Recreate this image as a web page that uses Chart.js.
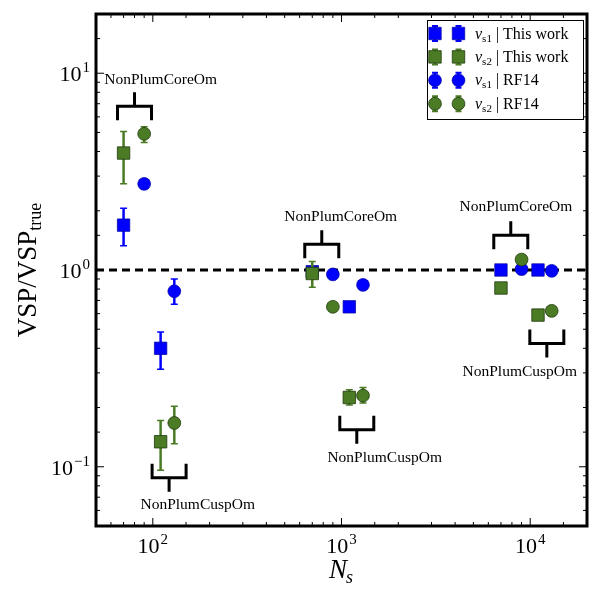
<!DOCTYPE html>
<html>
<head>
<meta charset="utf-8">
<script src="https://cdn.jsdelivr.net/npm/chart.js@4.4.1/dist/chart.umd.min.js"></script>
<style>
  html, body { margin: 0; padding: 0; background: #fff; }
  #wrap { width: 600px; height: 600px; }
</style>
</head>
<body>
<div id="wrap"><canvas id="chart"></canvas></div>
<script>
// N_s of every point: core sample, cusp sample, for each decade
const nsThisWork = [70, 110, 700, 1100, 7000, 11000];
const nsRF14 = [90, 130, 900, 1300, 9000, 13000];

const vs1ThisWork = [1.69, 0.40, 0.98, 0.65, 1.0, 1.0];
const vs1ThisWorkLo = [1.33, 0.313, null, null, null, null];
const vs1ThisWorkHi = [2.06, 0.484, null, null, null, null];

const vs2ThisWork = [3.93, 0.134, 0.96, 0.225, 0.81, 0.59];
const vs2ThisWorkLo = [2.74, 0.096, 0.818, 0.206, null, null];
const vs2ThisWorkHi = [5.05, 0.172, 1.106, 0.246, null, null];

const vs1RF14 = [2.74, 0.78, 0.95, 0.84, 1.01, 0.99];
const vs1RF14Lo = [null, 0.67, null, null, null, null];
const vs1RF14Hi = [null, 0.90, null, null, null, null];

const vs2RF14 = [4.92, 0.167, 0.65, 0.230, 1.13, 0.62];
const vs2RF14Lo = [4.45, 0.131, null, 0.211, null, null];
const vs2RF14Hi = [5.35, 0.203, null, 0.253, null, null];

// tick labels are 10^exp
const xTickValues = [100, 1000, 10000];
const xTickExps = ['2', '3', '4'];
const yTickValues = [0.1, 1, 10];
const yTickExps = ['\u22121', '0', '1'];

const legendSubs = ['s1', 's2', 's1', 's2'];
const legendNames = ['This work', 'This work', 'RF14', 'RF14'];

// bracket annotations (data coords)
const groupNames = ['NonPlumCoreOm', 'NonPlumCuspOm', 'NonPlumCoreOm', 'NonPlumCuspOm', 'NonPlumCoreOm', 'NonPlumCuspOm'];
const bracketX = [80, 122, 786, 1205, 7890, 12250];
const bracketY = [6.8, 0.088, 1.35, 0.154, 1.50, 0.423];
const bracketUp = [true, false, true, false, true, false];
const nameX = [110, 173, 991, 1694, 8400, 8810];
const nameY = [9.2, 0.0643, 1.87, 0.111, 2.08, 0.305];

const BLUE = '#0000ff';
const GREEN = '#4b7b25';
const SERIF = '"Liberation Serif", "DejaVu Serif", serif';

function pts(xs, ys) {
  return xs.map((x, i) => ({ x: x, y: ys[i] }));
}

const errLo = [vs1ThisWorkLo, vs2ThisWorkLo, vs1RF14Lo, vs2RF14Lo];
const errHi = [vs1ThisWorkHi, vs2ThisWorkHi, vs1RF14Hi, vs2RF14Hi];

function sameLog(a, b) {
  return Math.abs(Math.log10(a) - Math.log10(b)) < 1e-6;
}

function isDecade(v) {
  return sameLog(v, Math.pow(10, Math.round(Math.log10(v))));
}

const errorBars = {
  id: 'errorBars',
  beforeDatasetDraw(chart, args) {
    const i = args.index;
    if (i > 3) return;
    const ds = chart.data.datasets[i];
    const xs = chart.scales.x, ys = chart.scales.y;
    const ctx = chart.ctx;
    ctx.save();
    ctx.strokeStyle = ds.backgroundColor;
    ds.data.forEach((p, j) => {
      const lo = errLo[i][j], hi = errHi[i][j];
      if (lo == null) return;
      const px = xs.getPixelForValue(p.x);
      const y0 = ys.getPixelForValue(lo), y1 = ys.getPixelForValue(hi);
      ctx.lineWidth = 2.5;
      ctx.beginPath();
      ctx.moveTo(px, y0); ctx.lineTo(px, y1);
      ctx.stroke();
      ctx.lineWidth = 1.5;
      ctx.beginPath();
      ctx.moveTo(px - 3.5, y0); ctx.lineTo(px + 3.5, y0);
      ctx.moveTo(px - 3.5, y1); ctx.lineTo(px + 3.5, y1);
      ctx.stroke();
    });
    ctx.restore();
  }
};

// "10" with a raised exponent
function powerLabel(ctx, exp, x, y, align) {
  ctx.font = '22px ' + SERIF;
  const bw = ctx.measureText('10').width;
  ctx.font = '15px ' + SERIF;
  const ew = ctx.measureText(exp).width;
  const w = bw + ew + 1;
  const x0 = align === 'right' ? x - w : x - w / 2;
  ctx.textAlign = 'left';
  ctx.textBaseline = 'alphabetic';
  ctx.font = '22px ' + SERIF;
  ctx.fillText('10', x0, y);
  ctx.font = '15px ' + SERIF;
  ctx.fillText(exp, x0 + bw + 1, y - 9);
}

const decorations = {
  id: 'decorations',
  afterDraw(chart) {
    const ctx = chart.ctx;
    const a = chart.chartArea;
    const xs = chart.scales.x, ys = chart.scales.y;
    ctx.save();

    // inward ticks on all four sides
    ctx.strokeStyle = '#000';
    ctx.lineWidth = 1;
    ctx.beginPath();
    xs.ticks.forEach(t => {
      const px = xs.getPixelForValue(t.value);
      if (px <= a.left + 1 || px >= a.right - 1) return;
      const len = isDecade(t.value) ? 8 : 4;
      ctx.moveTo(px, a.bottom); ctx.lineTo(px, a.bottom - len);
      ctx.moveTo(px, a.top); ctx.lineTo(px, a.top + len);
    });
    ys.ticks.forEach(t => {
      const py = ys.getPixelForValue(t.value);
      if (py <= a.top + 1 || py >= a.bottom - 1) return;
      const len = isDecade(t.value) ? 8 : 4;
      ctx.moveTo(a.left, py); ctx.lineTo(a.left + len, py);
      ctx.moveTo(a.right, py); ctx.lineTo(a.right - len, py);
    });
    ctx.stroke();

    // tick labels
    ctx.fillStyle = '#000';
    xTickValues.forEach((v, i) => {
      powerLabel(ctx, xTickExps[i], xs.getPixelForValue(v), a.bottom + 27, 'center');
    });
    yTickValues.forEach((v, i) => {
      powerLabel(ctx, yTickExps[i], a.left - 6, ys.getPixelForValue(v) + 8, 'right');
    });

    // brackets and their names
    ctx.lineWidth = 3;
    ctx.lineCap = 'butt';
    ctx.lineJoin = 'miter';
    ctx.font = '15.5px ' + SERIF;
    ctx.textAlign = 'center';
    ctx.textBaseline = 'middle';
    groupNames.forEach((name, i) => {
      const cx = xs.getPixelForValue(bracketX[i]);
      const hy = ys.getPixelForValue(bracketY[i]);
      const d = bracketUp[i] ? 1 : -1;
      ctx.beginPath();
      ctx.moveTo(cx - 17, hy + 14 * d);
      ctx.lineTo(cx - 17, hy);
      ctx.lineTo(cx + 17, hy);
      ctx.lineTo(cx + 17, hy + 14 * d);
      ctx.moveTo(cx, hy);
      ctx.lineTo(cx, hy - 14 * d);
      ctx.stroke();
      ctx.fillText(name, xs.getPixelForValue(nameX[i]), ys.getPixelForValue(nameY[i]));
    });

    // frame
    ctx.lineWidth = 3;
    ctx.strokeRect(a.left, a.top, a.right - a.left, a.bottom - a.top);

    // legend
    const bw = 156, bh = 99;
    const bx = a.right - 4 - bw, by = a.top + 6;
    ctx.fillStyle = '#fff';
    ctx.fillRect(bx, by, bw, bh);
    ctx.strokeStyle = '#000';
    ctx.lineWidth = 1;
    ctx.strokeRect(bx + 0.5, by + 0.5, bw, bh);
    ctx.textAlign = 'left';
    ctx.textBaseline = 'alphabetic';
    for (let i = 0; i < 4; i++) {
      const ds = chart.data.datasets[i];
      const ry = by + 13.5 + i * 23.4;
      [bx + 8, bx + 31.5].forEach(mx => {
        ctx.strokeStyle = ds.backgroundColor;
        ctx.lineWidth = 2;
        ctx.beginPath();
        ctx.moveTo(mx, ry - 7.5); ctx.lineTo(mx, ry + 7.5);
        ctx.moveTo(mx - 3, ry - 7.5); ctx.lineTo(mx + 3, ry - 7.5);
        ctx.moveTo(mx - 3, ry + 7.5); ctx.lineTo(mx + 3, ry + 7.5);
        ctx.stroke();
        ctx.fillStyle = ds.backgroundColor;
        ctx.strokeStyle = ds.borderColor;
        ctx.lineWidth = ds.borderWidth;
        ctx.beginPath();
        if (ds.pointStyle === 'rect') {
          const s = ds.pointRadius * Math.SQRT1_2;
          ctx.rect(mx - s, ry - s, 2 * s, 2 * s);
        } else {
          ctx.arc(mx, ry, ds.pointRadius, 0, Math.PI * 2);
        }
        ctx.fill();
        ctx.stroke();
      });
      ctx.fillStyle = '#000';
      let tx = bx + 48;
      const base = ry + 5;
      ctx.font = 'italic 16px ' + SERIF;
      ctx.fillText('v', tx, base);
      tx += ctx.measureText('v').width;
      ctx.font = '11px ' + SERIF;
      ctx.fillText(legendSubs[i], tx, base + 3);
      tx += ctx.measureText(legendSubs[i]).width;
      ctx.font = '16px ' + SERIF;
      ctx.fillText(' | ' + legendNames[i], tx, base);
    }

    // axis titles
    ctx.fillStyle = '#000';
    ctx.font = 'italic 27px ' + SERIF;
    const nW = ctx.measureText('N').width;
    ctx.font = 'italic 18px ' + SERIF;
    const sW = ctx.measureText('s').width;
    const ax = (a.left + a.right) / 2 - (nW + sW) / 2;
    ctx.font = 'italic 27px ' + SERIF;
    ctx.fillText('N', ax, 578);
    ctx.font = 'italic 18px ' + SERIF;
    ctx.fillText('s', ax + nW - 1, 583);

    ctx.translate(36, (a.top + a.bottom) / 2);
    ctx.rotate(-Math.PI / 2);
    ctx.font = '27px ' + SERIF;
    const mainW = ctx.measureText('VSP/VSP').width;
    ctx.font = '18px ' + SERIF;
    const subW = ctx.measureText('true').width;
    const sx = -(mainW + subW) / 2;
    ctx.font = '27px ' + SERIF;
    ctx.fillText('VSP/VSP', sx, 0);
    ctx.font = '18px ' + SERIF;
    ctx.fillText('true', sx + mainW, 5);
    ctx.restore();
  }
};

Chart.defaults.font.family = SERIF;
Chart.defaults.color = '#000';

const ctx = document.getElementById('chart').getContext('2d');
new Chart(ctx, {
  type: 'scatter',
  data: {
    datasets: [
      { label: 'vs1 | This work', data: pts(nsThisWork, vs1ThisWork), pointStyle: 'rect', pointRadius: 8.8,
        backgroundColor: BLUE, borderColor: '#0000a0', borderWidth: 0.7, order: 3 },
      { label: 'vs2 | This work', data: pts(nsThisWork, vs2ThisWork), pointStyle: 'rect', pointRadius: 8.8,
        backgroundColor: GREEN, borderColor: '#1f3a0c', borderWidth: 0.8, order: 2 },
      { label: 'vs1 | RF14', data: pts(nsRF14, vs1RF14), pointStyle: 'circle', pointRadius: 6.4,
        backgroundColor: BLUE, borderColor: '#0000a0', borderWidth: 0.7, order: 1 },
      { label: 'vs2 | RF14', data: pts(nsRF14, vs2RF14), pointStyle: 'circle', pointRadius: 6.4,
        backgroundColor: GREEN, borderColor: '#1f3a0c', borderWidth: 0.8, order: 0 },
      { type: 'line', label: 'unity', data: [{ x: 50, y: 1 }, { x: 20000, y: 1 }],
        borderColor: '#000', borderWidth: 3, borderDash: [8, 5], pointRadius: 0, order: 10 }
    ]
  },
  options: {
    responsive: true,
    maintainAspectRatio: false,
    animation: false,
    layout: { padding: { top: 14, right: 13, left: 0, bottom: 0 } },
    plugins: { legend: { display: false }, tooltip: { enabled: false } },
    scales: {
      x: {
        type: 'logarithmic', min: 50, max: 20000,
        grid: { display: false },
        border: { display: false },
        ticks: { autoSkip: false, maxRotation: 0, callback: () => '' },
        afterFit: (s) => { s.height = 74; }
      },
      y: {
        type: 'logarithmic', min: 0.05, max: 20,
        grid: { display: false },
        border: { display: false },
        ticks: { autoSkip: false, callback: () => '' },
        afterFit: (s) => { s.width = 96; }
      }
    }
  },
  plugins: [errorBars, decorations]
});
</script>
</body>
</html>
